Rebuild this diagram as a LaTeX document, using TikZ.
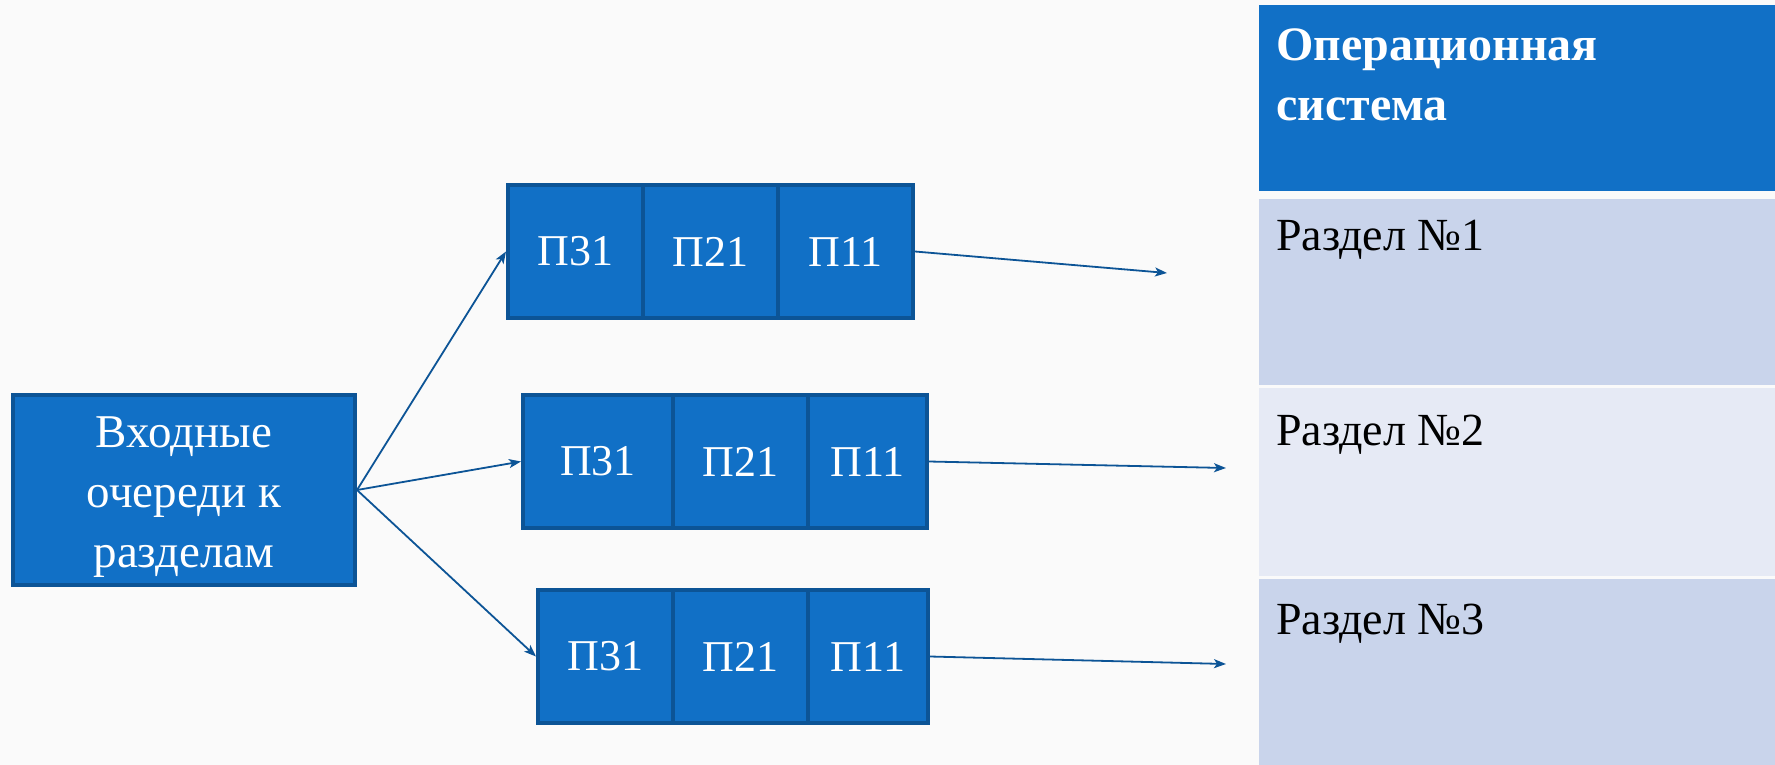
\documentclass[tikz,border=0pt]{standalone}
\usepackage{fontspec}
\setmainfont{Liberation Serif}
\usetikzlibrary{arrows.meta}
\definecolor{boxfill}{RGB}{17,112,198}
\definecolor{boxline}{RGB}{12,84,150}
\definecolor{rowa}{RGB}{201,212,235}
\definecolor{rowb}{RGB}{230,234,245}
\definecolor{bgc}{RGB}{250,250,250}
\tikzset{
  bluebox/.style={draw=boxline, fill=boxfill, line width=4pt, text=white, inner sep=0pt},
  cell/.style={bluebox, minimum height=133pt, font=\fontsize{44}{50}\selectfont},
  link/.style={draw=boxline, line width=1.8pt, -{Stealth[length=12pt,width=9pt,inset=3pt]}},
  rowtext/.style={inner sep=0pt, anchor=north west, align=left},
}
\begin{document}
\begin{tikzpicture}[x=1pt,y=-1pt]
\fill[bgc] (0,0) rectangle (1775,765);
\useasboundingbox (0,0) rectangle (1775,765);

% table
\fill[boxfill] (1259,5) rectangle (1775,191);
\fill[rowa] (1259,199) rectangle (1775,385);
\fill[rowb] (1259,388) rectangle (1775,576);
\fill[rowa] (1259,579) rectangle (1775,765);
\node[rowtext, text=white, font=\bfseries\fontsize{48}{60}\selectfont] (hdr) at (1276,29) {Операционная\\система};
\node[rowtext, font=\fontsize{46}{54}\selectfont] (r1) at (1276,220) {Раздел №1};
\node[rowtext, font=\fontsize{46}{54}\selectfont] (r2) at (1276,415) {Раздел №2};
\node[rowtext, font=\fontsize{46}{54}\selectfont] (r3) at (1276,604) {Раздел №3};

% input box
\node[bluebox, minimum width=342pt, minimum height=190pt, align=center,
      font=\fontsize{47}{60}\selectfont] (inb) at (184,490) {\rule{0pt}{45pt}Входные\\очереди к\\разделам};

% queue 1
\node[cell, minimum width=135pt] (a3) at (575.5,251.5) {П31};
\node[cell, minimum width=135pt] (a2) at (710.5,251.5) {П21};
\node[cell, minimum width=135pt] (a1) at (845.5,251.5) {П11};
% queue 2
\node[cell, minimum width=150pt] (b3) at (598,461.5) {П31};
\node[cell, minimum width=135pt] (b2) at (740.5,461.5) {П21};
\node[cell, minimum width=119pt] (b1) at (867.5,461.5) {П11};
% queue 3
\node[cell, minimum width=135pt] (c3) at (605.5,656.5) {П31};
\node[cell, minimum width=135pt] (c2) at (740.5,656.5) {П21};
\node[cell, minimum width=120pt] (c1) at (868,656.5) {П11};

\coordinate (e1) at (1167,273);
\coordinate (e2) at (1226,468);
\coordinate (e3) at (1226,664);

\draw[link] (inb.east) -- (a3.west);
\draw[link] (inb.east) -- (b3.west);
\draw[link] (inb.east) -- (c3.west);
\draw[link] (a1.east) -- (e1);
\draw[link] (b1.east) -- (e2);
\draw[link] (c1.east) -- (e3);
\end{tikzpicture}
\end{document}
